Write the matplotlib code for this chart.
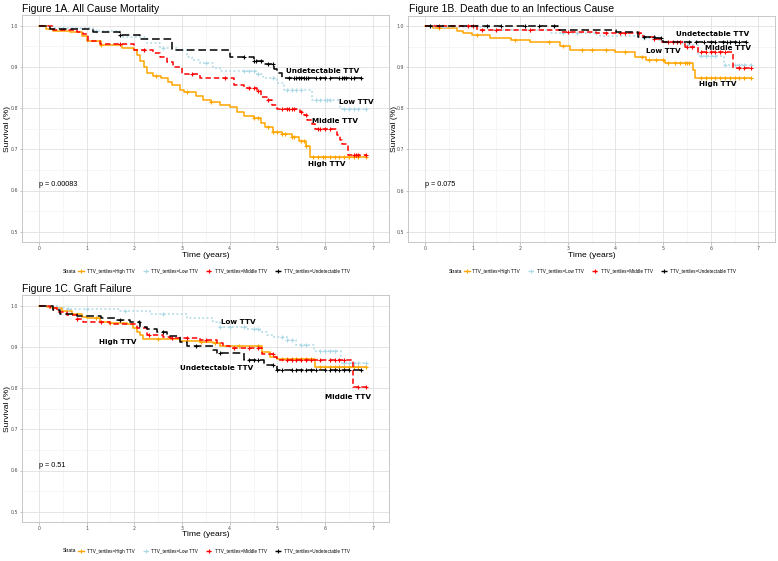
"""Kaplan-Meier curves by TTV tertile (Figures 1A-1C)."""

import numpy as np
import matplotlib

matplotlib.use("Agg")
import matplotlib.pyplot as plt
from matplotlib.lines import Line2D

strata = ["High TTV", "Low TTV", "Middle TTV", "Undetectable TTV"]
legend_labels = ["TTV_tertiles=" + s for s in strata]

# ---- Figure 1A. All cause mortality ----
a_high_t = [0, 0.15, 0.3, 0.65, 0.9, 1.0, 1.3, 1.75, 2.0, 2.05, 2.12, 2.2, 2.26, 2.4, 2.55, 2.7, 2.8, 2.95,
            3.05, 3.3, 3.45, 3.6, 3.8, 4.0, 4.15, 4.3, 4.5, 4.65, 4.75, 4.9, 5.1, 5.3, 5.45, 5.6, 5.68]
a_high_s = [1.0, 0.992, 0.988, 0.984, 0.976, 0.962, 0.952, 0.945, 0.94, 0.93, 0.915, 0.9, 0.885, 0.878, 0.872,
            0.864, 0.855, 0.845, 0.84, 0.83, 0.82, 0.815, 0.808, 0.802, 0.79, 0.782, 0.775, 0.765, 0.755, 0.742,
            0.738, 0.73, 0.72, 0.708, 0.682]
a_high_c = [1.3, 2.45, 3.1, 3.6, 4.5, 4.6, 4.8, 4.9, 5.0, 5.1, 5.15, 5.3, 5.35, 5.5, 5.55, 5.6, 5.75, 5.85,
            5.95, 6.0, 6.1, 6.2, 6.3, 6.4, 6.5, 6.6, 6.7, 6.85]
a_low_t = [0, 0.3, 1.14, 1.7, 2.26, 2.54, 2.9, 3.1, 3.2, 3.38, 3.66, 3.8, 4.55, 4.7, 5.0, 5.13, 5.72, 6.32]
a_low_s = [1.0, 0.995, 0.986, 0.973, 0.957, 0.945, 0.94, 0.925, 0.917, 0.909, 0.897, 0.891, 0.883, 0.872,
           0.86, 0.845, 0.82, 0.798]
a_low_c = [0.5, 1.2, 2.6, 3.5, 4.3, 4.4, 4.5, 4.6, 4.9, 5.2, 5.3, 5.4, 5.5, 5.8, 5.9, 6.0, 6.05, 6.1,
           6.4, 6.5, 6.6, 6.7, 6.85]
a_mid_t = [0, 0.3, 0.8, 0.93, 1.03, 1.28, 2.0, 2.4, 2.54, 2.68, 2.82, 3.0, 3.38, 4.08, 4.29, 4.57, 4.65, 4.78,
           4.88, 5.0, 5.48, 5.55, 5.62, 5.72, 5.79, 6.25, 6.31, 6.36, 6.48]
a_mid_s = [1.0, 0.99, 0.985, 0.98, 0.963, 0.955, 0.94, 0.933, 0.925, 0.913, 0.9, 0.882, 0.872, 0.856, 0.85,
           0.842, 0.828, 0.82, 0.807, 0.799, 0.79, 0.783, 0.771, 0.762, 0.749, 0.735, 0.722, 0.713, 0.686]
a_mid_c = [1.7, 2.2, 3.2, 3.9, 4.4, 4.5, 4.6, 4.8, 5.1, 5.2, 5.25, 5.3, 5.35, 5.5, 5.6, 5.85, 5.9, 6.0,
           6.1, 6.6, 6.65, 6.7, 6.85]
a_und_t = [0, 0.23, 1.14, 1.7, 2.12, 2.78, 4.0, 4.5, 4.7, 4.92, 5.0, 5.1]
a_und_s = [1.0, 0.991, 0.984, 0.978, 0.967, 0.941, 0.923, 0.915, 0.907, 0.896, 0.885, 0.874]
a_und_c = [1.7, 4.3, 4.5, 4.55, 4.65, 4.8, 4.9, 5.25, 5.35, 5.4, 5.45, 5.5, 5.55, 5.6, 5.65, 5.8, 5.9,
           6.0, 6.1, 6.3, 6.35, 6.4, 6.45, 6.55, 6.6, 6.75]

# ---- Figure 1B. Death due to an infectious cause ----
b_high_t = [0, 0.17, 0.67, 0.8, 0.98, 1.37, 1.8, 2.2, 2.83, 3.05, 4.0, 4.41, 4.65, 5.04, 5.62, 5.67]
b_high_s = [1.0, 0.994, 0.989, 0.982, 0.978, 0.972, 0.966, 0.96, 0.951, 0.942, 0.936, 0.925, 0.917, 0.909,
            0.893, 0.873]
b_high_c = [0.3, 1.1, 1.9, 2.6, 2.9, 3.3, 3.5, 3.8, 4.2, 4.55, 4.7, 4.85, 5.0, 5.1, 5.25, 5.35, 5.45, 5.5,
            5.55, 5.8, 5.9, 6.0, 6.1, 6.2, 6.3, 6.4, 6.5, 6.6, 6.7, 6.85]
b_low_t = [0, 0.3, 1.37, 2.63, 3.67, 4.58, 4.93, 5.42, 5.74, 6.27]
b_low_s = [1.0, 0.997, 0.99, 0.984, 0.976, 0.97, 0.962, 0.954, 0.928, 0.904]
b_low_c = [0.2, 0.4, 1.5, 2.9, 3.2, 3.6, 4.6, 4.9, 5.2, 5.3, 5.4, 5.5, 5.8, 5.9, 6.0, 6.1, 6.3, 6.5, 6.6,
           6.7, 6.85]
b_mid_t = [0, 1.09, 2.83, 3.6, 4.58, 4.8, 4.97, 5.45, 5.74, 6.47]
b_mid_s = [1.0, 0.99, 0.986, 0.982, 0.974, 0.968, 0.96, 0.95, 0.936, 0.899]
b_mid_c = [0.3, 0.9, 1.0, 1.2, 1.5, 2.2, 3.0, 3.8, 4.1, 4.2, 4.5, 4.8, 5.1, 5.2, 5.3, 5.35, 5.5, 5.6, 5.8,
           5.9, 6.0, 6.1, 6.2, 6.3, 6.6, 6.7, 6.85]
b_und_t = [0, 2.8, 4.02, 4.48, 4.83, 5.0]
b_und_s = [1.0, 0.99, 0.985, 0.974, 0.97, 0.962]
b_und_c = [0.1, 1.3, 1.6, 2.1, 2.4, 2.7, 4.6, 4.8, 4.95, 5.55, 5.7, 5.85, 6.0, 6.1, 6.25, 6.35, 6.4, 6.5,
           6.6, 6.75]

# ---- Figure 1C. Graft failure ----
c_high_t = [0, 0.16, 0.3, 0.48, 0.69, 0.9, 1.0, 1.28, 1.5, 1.84, 1.98, 2.05, 2.12, 2.19, 2.96, 3.38, 3.66,
            3.8, 4.68, 4.85, 4.99, 5.79]
c_high_s = [1.0, 0.997, 0.994, 0.987, 0.979, 0.973, 0.969, 0.961, 0.957, 0.955, 0.947, 0.937, 0.929, 0.919,
            0.915, 0.913, 0.909, 0.902, 0.887, 0.876, 0.87, 0.852]
c_high_c = [0.3, 1.2, 1.5, 2.5, 3.4, 3.7, 4.2, 4.6, 5.1, 5.2, 5.3, 5.4, 5.5, 5.6, 5.7, 5.9, 6.0, 6.1, 6.2,
            6.3, 6.4, 6.5, 6.6, 6.7, 6.85]
c_low_t = [0, 0.37, 0.58, 1.7, 2.33, 3.1, 3.66, 3.8, 4.36, 4.64, 4.78, 4.92, 5.2, 5.4, 5.76, 6.33]
c_low_s = [1.0, 0.994, 0.991, 0.988, 0.979, 0.971, 0.96, 0.949, 0.943, 0.937, 0.929, 0.925, 0.917, 0.905,
           0.89, 0.86]
c_low_c = [0.6, 1.0, 1.8, 2.6, 3.8, 4.0, 4.3, 4.5, 4.6, 5.1, 5.2, 5.3, 5.5, 5.6, 5.9, 6.0, 6.1, 6.2, 6.4,
           6.5, 6.6, 6.7, 6.85]
c_mid_t = [0, 0.23, 0.37, 0.58, 0.79, 0.93, 1.49, 2.05, 2.26, 2.6, 2.75, 3.38, 3.73, 3.87, 4.0, 4.68, 4.92,
           5.0, 6.58]
c_mid_s = [1.0, 0.994, 0.985, 0.977, 0.967, 0.961, 0.955, 0.945, 0.929, 0.925, 0.921, 0.917, 0.909, 0.903,
           0.898, 0.882, 0.876, 0.868, 0.802]
c_mid_c = [0.8, 1.3, 2.3, 2.8, 3.1, 3.5, 4.1, 4.4, 4.6, 4.9, 5.2, 5.3, 5.4, 5.5, 5.6, 5.7, 5.9, 6.1, 6.2,
           6.3, 6.4, 6.7, 6.85]
c_und_t = [0, 0.3, 0.45, 0.8, 1.3, 1.63, 1.9, 2.12, 2.26, 2.47, 2.68, 2.96, 3.1, 3.66, 3.73, 4.29, 4.71, 4.99]
c_und_s = [1.0, 0.99, 0.98, 0.975, 0.97, 0.965, 0.96, 0.949, 0.943, 0.937, 0.926, 0.913, 0.903, 0.892,
           0.884, 0.868, 0.856, 0.844]
c_und_c = [1.7, 2.1, 2.6, 3.3, 3.8, 4.4, 4.5, 4.6, 4.9, 5.0, 5.1, 5.3, 5.4, 5.5, 5.6, 5.7, 5.8, 6.0, 6.1,
           6.2, 6.3, 6.4, 6.5, 6.75]

colors = ["#FFA500", "#ADD8E6", "#FF0000", "#000000"]
dashes = [None, (1.2, 1.6), (3.5, 2.0), (5.0, 2.5)]

W, H = 778, 561


def rect(left, right, top, bottom):
    return [left / W, 1 - bottom / H, (right - left) / W, (bottom - top) / H]


def draw_panel(fig, box, curves, labels, pval, title, title_xy, xlab_y, ylab_x, legend_y):
    ax = fig.add_axes(rect(*box))
    for (t, s, c), color, dash in zip(curves, colors, dashes):
        end = c[-1]
        xs = list(t) + [end]
        ys = list(s) + [s[-1]]
        line, = ax.step(xs, ys, where="post", color=color, lw=1.1)
        if dash is not None:
            line.set_dashes(dash)
        idx = np.searchsorted(t, c, side="right") - 1
        ax.plot(c, np.asarray(s)[idx], ls="none", marker="+", ms=3.5, mew=0.8, color=color)
    for text, x, y in labels:
        ax.text(x, y, text, ha="center", va="center", fontsize=5.2, fontweight="bold",
                family="DejaVu Sans")
    ax.text(0, pval[1], pval[0], ha="left", va="center", fontsize=5.2, family="Liberation Sans")

    ax.set_xlim(-0.35, 7.35)
    ax.set_ylim(0.475, 1.025)
    ax.set_xticks(range(0, 8))
    ax.set_yticks([0.5, 0.6, 0.7, 0.8, 0.9, 1.0])
    ax.set_xticks(np.arange(0.5, 7, 1.0), minor=True)
    ax.set_yticks(np.arange(0.55, 1.0, 0.1), minor=True)
    ax.tick_params(which="major", labelsize=3.4, length=1.8, width=0.4, color="#999999",
                   labelcolor="#4D4D4D", pad=1.2)
    ax.tick_params(which="minor", length=0)
    ax.grid(which="major", color="#E0E0E0", lw=0.6)
    ax.grid(which="minor", color="#F0F0F0", lw=0.4)
    ax.set_axisbelow(True)
    for sp in ax.spines.values():
        sp.set_color("#BFBFBF")
        sp.set_linewidth(0.6)

    cx = (box[0] + box[1]) / 2
    fig.text(title_xy[0] / W, 1 - title_xy[1] / H, title, ha="left", va="center", fontsize=7.5,
             family="Liberation Sans")
    fig.text(cx / W, 1 - xlab_y / H, "Time (years)", ha="center", va="center", fontsize=6.1,
             family="Liberation Sans")
    fig.text(ylab_x / W, 1 - ((box[2] + box[3]) / 2) / H, "Survival (%)", ha="center", va="center",
             rotation=90, fontsize=6.1, family="Liberation Sans")

    handles = []
    for color, dash in zip(colors, dashes):
        h = Line2D([], [], color=color, lw=1.0, marker="+", ms=3.5, mew=0.8)
        if dash is not None:
            h.set_dashes(dash)
        handles.append(h)
    fig.text((cx - 143) / W, 1 - legend_y / H, "Strata", ha="left", va="center", fontsize=3.6,
             family="Liberation Sans")
    fig.legend(handles, legend_labels, loc="center left", ncol=4, frameon=False,
               bbox_to_anchor=((cx - 128) / W, 1 - legend_y / H), handlelength=1.3,
               handletextpad=0.6, columnspacing=1.8, borderpad=0, borderaxespad=0,
               prop={"family": "Liberation Sans", "size": 3.3})
    return ax


fig = plt.figure(figsize=(W / 100, H / 100), dpi=100)

draw_panel(fig, (22.3, 389.4, 15.4, 242.0),
           [(a_high_t, a_high_s, a_high_c), (a_low_t, a_low_s, a_low_c),
            (a_mid_t, a_mid_s, a_mid_c), (a_und_t, a_und_s, a_und_c)],
           [("Undetectable TTV", 5.95, 0.891), ("Low TTV", 6.66, 0.814),
            ("Middle TTV", 6.2, 0.769), ("High TTV", 6.03, 0.665)],
           ("p = 0.00083", 0.615), "Figure 1A. All Cause Mortality", (22, 8.5), 255.5, 7.5, 271)

draw_panel(fig, (408.3, 775.0, 15.7, 242.0),
           [(b_high_t, b_high_s, b_high_c), (b_low_t, b_low_s, b_low_c),
            (b_mid_t, b_mid_s, b_mid_c), (b_und_t, b_und_s, b_und_c)],
           [("Undetectable TTV", 6.04, 0.98), ("Middle TTV", 6.37, 0.947),
            ("Low TTV", 5.0, 0.94), ("High TTV", 6.15, 0.86)],
           ("p = 0.075", 0.614), "Figure 1B. Death due to an Infectious Cause", (409, 8.5), 255.5, 394, 271)

draw_panel(fig, (22.3, 389.4, 295.4, 522.0),
           [(c_high_t, c_high_s, c_high_c), (c_low_t, c_low_s, c_low_c),
            (c_mid_t, c_mid_s, c_mid_c), (c_und_t, c_und_s, c_und_c)],
           [("Low TTV", 4.18, 0.961), ("High TTV", 1.66, 0.913),
            ("Undetectable TTV", 3.73, 0.848), ("Middle TTV", 6.48, 0.778)],
           ("p = 0.51", 0.612), "Figure 1C. Graft Failure", (22, 288.5), 535, 7.5, 551)

fig.savefig("out.png", dpi=100)
